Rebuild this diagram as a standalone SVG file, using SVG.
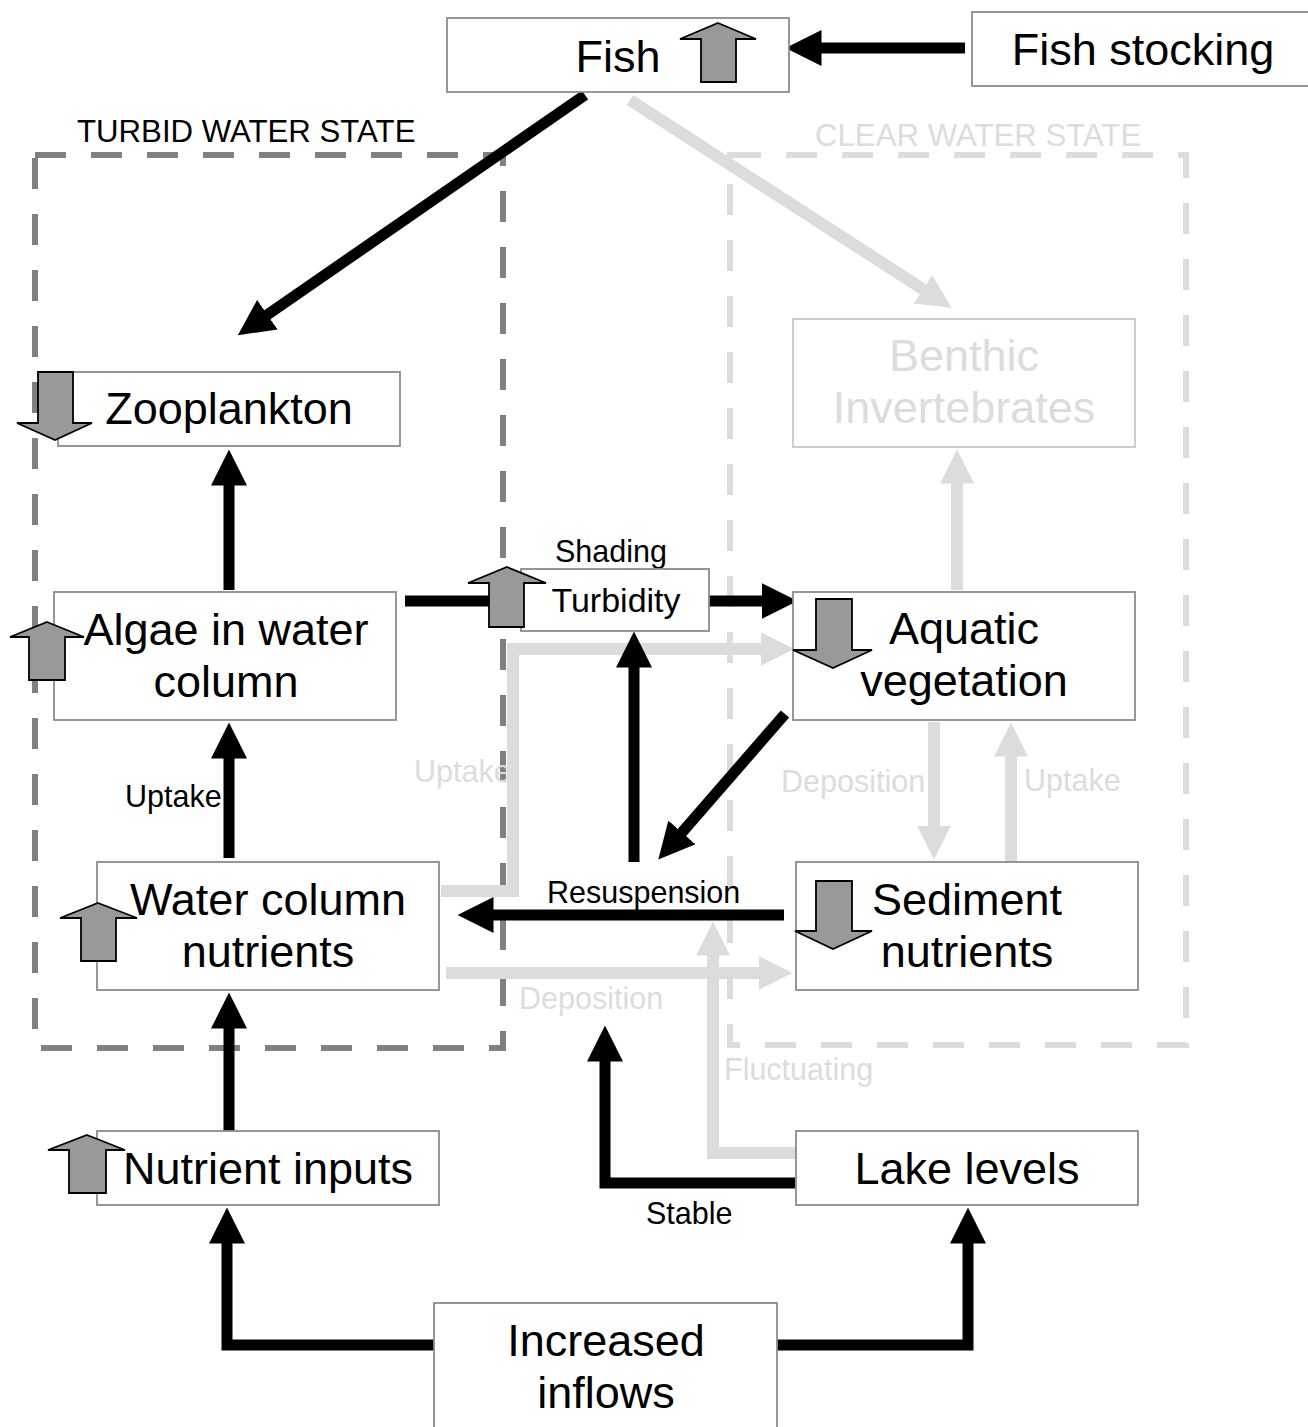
<svg xmlns="http://www.w3.org/2000/svg" width="1308" height="1427" viewBox="0 0 1308 1427">
<style>
.box{fill:#fff;stroke:#8c8c8c;stroke-width:1.8}
.lbox{fill:#fff;stroke:#c8c8c8;stroke-width:1.8}
.nt{font-family:"Liberation Sans",Arial,sans-serif;font-size:45px;fill:#000;text-anchor:middle}
.lt{font-family:"Liberation Sans",Arial,sans-serif;font-size:45px;fill:#dcdcdc;text-anchor:middle}
.lab{font-family:"Liberation Sans",Arial,sans-serif;font-size:30.5px;fill:#000}
.glab{font-family:"Liberation Sans",Arial,sans-serif;font-size:30.5px;fill:#dcdcdc}
.bk{fill:none;stroke:#000;stroke-width:11;stroke-linejoin:miter}
.gr{fill:none;stroke:#dcdcdc;stroke-width:12;stroke-linejoin:miter}
.blk{fill:#999;stroke:#000;stroke-width:1.8;stroke-linejoin:miter}
</style>
<defs>
<marker id="ab" viewBox="0 0 36 36" refX="0.5" refY="18" markerWidth="36" markerHeight="36" markerUnits="userSpaceOnUse" orient="auto"><path d="M0,0 L36,18 L0,36 Z" fill="#000"/></marker>
<marker id="ag" viewBox="0 0 34 34" refX="0.5" refY="17" markerWidth="34" markerHeight="34" markerUnits="userSpaceOnUse" orient="auto"><path d="M0,0 L34,17 L0,34 Z" fill="#dcdcdc"/></marker>
</defs>
<rect width="1308" height="1427" fill="#fff"/>
<g id="states">
<rect x="35" y="155" width="468" height="893" fill="none" stroke="#808080" stroke-width="6" stroke-dasharray="31 25"/>
<text class="lab" x="77" y="142" style="font-size:31.2px">TURBID WATER STATE</text>
<rect x="730" y="155" width="456" height="890" fill="none" stroke="#dcdcdc" stroke-width="6" stroke-dasharray="31 25"/>
<text class="glab" x="815" y="146" style="font-size:31.2px">CLEAR WATER STATE</text>
</g>
<g id="connectors">
<line class="gr" x1="630" y1="100" x2="923.4" y2="289.5" marker-end="url(#ag)"/>
<line class="gr" x1="446" y1="973" x2="759" y2="973" marker-end="url(#ag)"/>
<path class="gr" d="M441,891 H513 V649 H761" marker-end="url(#ag)"/>
<line class="gr" x1="934" y1="722" x2="934" y2="826" marker-end="url(#ag)"/>
<line class="gr" x1="1011" y1="862" x2="1011" y2="756" marker-end="url(#ag)"/>
<line class="gr" x1="957" y1="590" x2="957" y2="483" marker-end="url(#ag)"/>
<path class="gr" d="M796,1153 H713 V955" marker-end="url(#ag)"/>
<line class="bk" x1="585" y1="95" x2="267" y2="315" marker-end="url(#ab)"/>
<line class="bk" x1="965" y1="48" x2="821" y2="48" marker-end="url(#ab)"/>
<line class="bk" x1="229" y1="590" x2="229" y2="485" marker-end="url(#ab)"/>
<line class="bk" x1="229" y1="858" x2="229" y2="758" marker-end="url(#ab)"/>
<line class="bk" x1="229" y1="1131" x2="229" y2="1028" marker-end="url(#ab)"/>
<line class="bk" x1="405" y1="601" x2="762" y2="601" marker-end="url(#ab)"/>
<line class="bk" x1="634" y1="862" x2="634" y2="667" marker-end="url(#ab)"/>
<line class="bk" x1="785" y1="714" x2="681.6" y2="832.8" marker-end="url(#ab)"/>
<line class="bk" x1="784" y1="915" x2="493" y2="915" marker-end="url(#ab)"/>
<path class="bk" d="M795,1183 H605 V1061" marker-end="url(#ab)"/>
<path class="bk" d="M434,1345 H227 V1243" marker-end="url(#ab)"/>
<path class="bk" d="M777,1345 H968 V1243" marker-end="url(#ab)"/>
<text class="lab" x="611" y="562" text-anchor="middle">Shading</text>
<text class="lab" x="125" y="807">Uptake</text>
<text class="glab" x="414" y="782">Uptake</text>
<text class="lab" x="547" y="903">Resuspension</text>
<text class="glab" x="519" y="1009">Deposition</text>
<text class="glab" x="781" y="792">Deposition</text>
<text class="glab" x="1024" y="791">Uptake</text>
<text class="glab" x="724" y="1080">Fluctuating</text>
<text class="lab" x="646" y="1224">Stable</text>
</g>
<g id="fish">
<rect class="box" x="447" y="18" width="342" height="74"/>
<text class="nt" x="618" y="72">Fish</text>
<path class="blk" d="M718,23 L756,39 L736,39 L736,82 L701,82 L701,39 L680,39 Z"/>
</g>
<g id="fish-stocking">
<rect class="box" x="972" y="12" width="345" height="74"/>
<text class="nt" x="1143" y="65">Fish stocking</text>
</g>
<g id="zooplankton">
<rect class="box" x="58" y="372" width="342" height="74"/>
<text class="nt" x="229" y="424">Zooplankton</text>
<path class="blk" d="M38,372 L73,372 L73,423 L92,423 L55,440 L17,423 L38,423 Z"/>
</g>
<g id="benthic">
<rect class="lbox" x="793" y="319" width="342" height="128"/>
<text class="lt" x="964" y="371">Benthic</text>
<text class="lt" x="964" y="423">Invertebrates</text>
</g>
<g id="algae">
<rect class="box" x="54" y="592" width="342" height="128"/>
<text class="nt" x="226" y="645">Algae in water</text>
<text class="nt" x="226" y="697">column</text>
<path class="blk" d="M47,622 L84,637 L65,637 L65,680 L29,680 L29,637 L10,637 Z"/>
</g>
<g id="turbidity">
<rect class="box" x="521" y="569" width="188" height="62"/>
<text class="nt" x="616" y="612" style="font-size:34px">Turbidity</text>
<path class="blk" d="M507,567 L546,583 L524,583 L524,627 L489,627 L489,583 L468,583 Z"/>
</g>
<g id="aquatic">
<rect class="box" x="793" y="592" width="342" height="128"/>
<text class="nt" x="964" y="644">Aquatic</text>
<text class="nt" x="964" y="696">vegetation</text>
<path class="blk" d="M816,599 L852,599 L852,650 L872,650 L833,668 L793,650 L816,650 Z"/>
</g>
<g id="water-column">
<rect class="box" x="97" y="862" width="342" height="128"/>
<text class="nt" x="268" y="915">Water column</text>
<text class="nt" x="268" y="967">nutrients</text>
<path class="blk" d="M98,903 L137,918 L116,918 L116,961 L81,961 L81,918 L60,918 Z"/>
</g>
<g id="sediment">
<rect class="box" x="796" y="862" width="342" height="128"/>
<text class="nt" x="967" y="915">Sediment</text>
<text class="nt" x="967" y="967">nutrients</text>
<path class="blk" d="M816,881 L852,881 L852,931 L872,931 L833,949 L795,931 L816,931 Z"/>
</g>
<g id="nutrient-inputs">
<rect class="box" x="97" y="1131" width="342" height="74"/>
<text class="nt" x="268" y="1184">Nutrient inputs</text>
<path class="blk" d="M87,1135 L125,1150 L106,1150 L106,1193 L69,1193 L69,1150 L48,1150 Z"/>
</g>
<g id="lake-levels">
<rect class="box" x="796" y="1131" width="342" height="74"/>
<text class="nt" x="967" y="1184">Lake levels</text>
</g>
<g id="increased-inflows">
<rect class="box" x="434" y="1303" width="343" height="140"/>
<text class="nt" x="606" y="1356">Increased</text>
<text class="nt" x="606" y="1408">inflows</text>
</g>
</svg>
